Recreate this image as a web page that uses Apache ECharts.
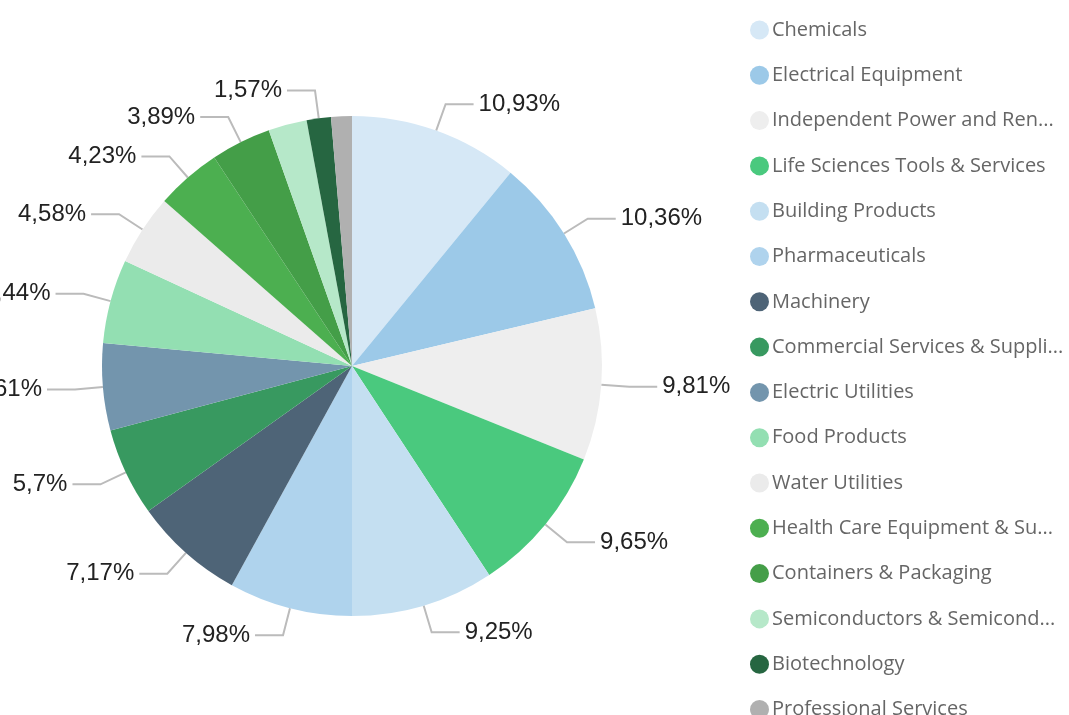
<!DOCTYPE html>
<html>
<head>
<meta charset="utf-8">
<script src="https://cdn.jsdelivr.net/npm/echarts@6/dist/echarts.min.js"></script>
<style>
  html, body { margin: 0; padding: 0; background: #fff; }
  #chart { width: 1069px; height: 715px; }
</style>
</head>
<body>
<div id="chart"></div>
<script>
// sectors, clockwise from 12 o'clock
const names = [
  'Chemicals',
  'Electrical Equipment',
  'Independent Power and Renewable Electricity Producers',
  'Life Sciences Tools & Services',
  'Building Products',
  'Pharmaceuticals',
  'Machinery',
  'Commercial Services & Supplies',
  'Electric Utilities',
  'Food Products',
  'Water Utilities',
  'Health Care Equipment & Supplies',
  'Containers & Packaging',
  'Semiconductors & Semiconductor Equipment',
  'Biotechnology',
  'Professional Services'
];
const shares = [10.93, 10.36, 9.81, 9.65, 9.25, 7.98, 7.17, 5.7, 5.61, 5.44, 4.58, 4.23, 3.89, 2.49, 1.57, 1.34];
const colors = [
  '#d6e8f6', '#9cc9e8', '#eeeeee', '#4ac97e', '#c4dff1', '#afd3ed',
  '#4e6477', '#389960', '#7395ad', '#93dfb2', '#ebebeb', '#4caf50',
  '#449e48', '#b6e8c9', '#266641', '#b0b0b0'
];
// these two labels are not drawn in the original
const hiddenLabels = ['Semiconductors & Semiconductor Equipment', 'Professional Services'];

const chart = echarts.init(document.getElementById('chart'));

const option = {
  animation: false,
  color: colors,
  legend: {
    orient: 'vertical',
    left: 745,
    top: 15,
    height: 900,
    itemWidth: 19,
    itemHeight: 19,
    itemGap: 25.3,
    icon: 'circle',
    textStyle: {
      fontFamily: 'Open Sans',
      fontSize: 20,
      color: '#666',
      width: 296,
      overflow: 'truncate',
      padding: [0, 0, 0, -2]
    },
    data: names
  },
  series: [
    {
      type: 'pie',
      center: [352, 366],
      radius: [0, 250],
      startAngle: 90,
      clockwise: true,
      avoidLabelOverlap: false,
      label: {
        show: true,
        fontFamily: 'Liberation Sans',
        fontSize: 24,
        color: '#222',
        formatter: p => String(p.value).replace('.', ',') + '%'
      },
      labelLine: {
        show: true,
        length: 28,
        length2: 28,
        lineStyle: { color: '#bbb', width: 2 }
      },
      emphasis: { disabled: true },
      data: names.map((n, i) => {
        const d = { name: n, value: shares[i] };
        if (hiddenLabels.includes(n)) {
          d.label = { show: false };
          d.labelLine = { show: false };
        }
        return d;
      })
    }
  ]
};

chart.setOption(option);
</script>
</body>
</html>
